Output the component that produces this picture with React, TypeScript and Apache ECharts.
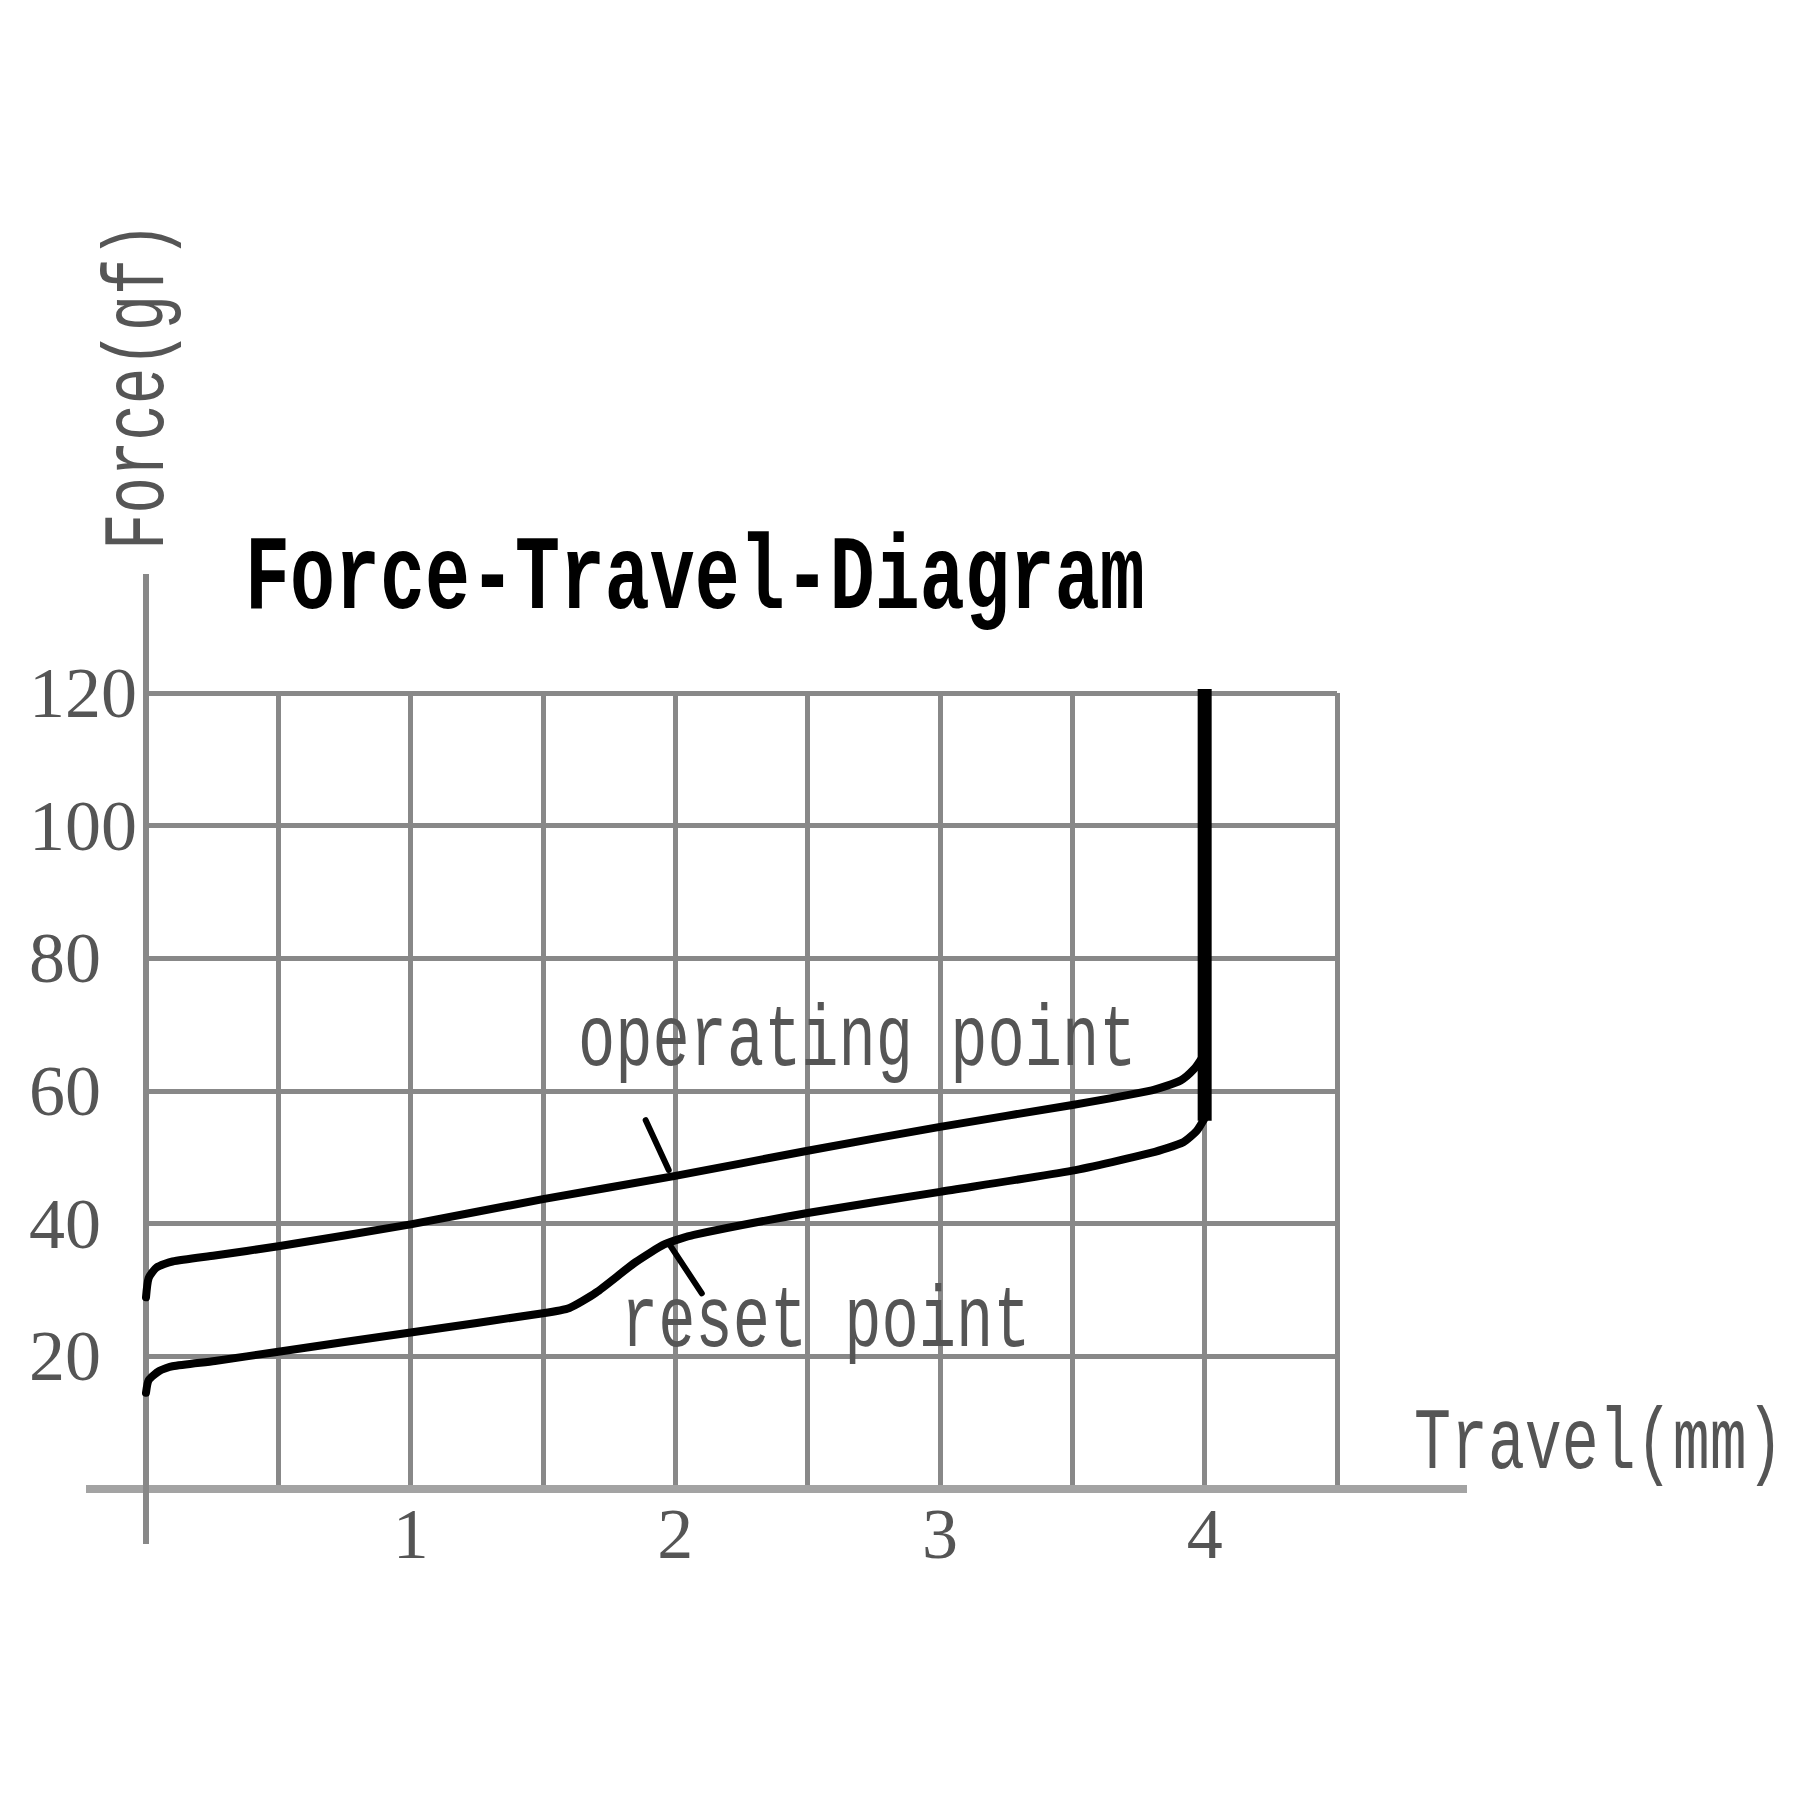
import React, { useEffect, useRef } from "react";
import * as echarts from "echarts";

// ---- data ----
const travelTicks = [1, 2, 3, 4];
const forceTicks = [20, 40, 60, 80, 100, 120];

const operatingCurve: number[][] = [
  [0, 28.9], [0.01, 31.8], [0.04, 33.4], [0.1, 34.3], [0.26, 35.2],
  [0.5, 36.6], [1.0, 39.9], [1.5, 43.7], [2.0, 47.2], [2.5, 51.0],
  [3.0, 54.6], [3.5, 57.9], [3.8, 60.1], [3.91, 61.6], [3.96, 63.3], [3.99, 65.0],
];
const resetCurve: number[][] = [
  [0, 14.5], [0.01, 16.4], [0.05, 17.8], [0.1, 18.5], [0.26, 19.3],
  [0.5, 20.7], [1.0, 23.6], [1.5, 26.5], [1.6, 27.3], [1.7, 29.6],
  [1.85, 34.2], [1.96, 36.9], [2.07, 38.3], [2.5, 41.6], [3.0, 44.8],
  [3.5, 48.0], [3.8, 50.7], [3.92, 52.3], [3.97, 54.0], [4.0, 55.9],
];
const stopLine: number[][] = [[4.0, 55.5], [4.0, 120.6]];
const operatingArrow: number[][] = [[1.888, 55.6], [1.975, 48.1]];
const resetArrow: number[][] = [[1.974, 37.1], [2.1, 29.5]];

const titleText = "Force-Travel-Diagram";
const xName = "Travel(mm)";
const yName = "Force(gf)";
const operatingLabel = "operating point";
const resetLabel = "reset point";

// ---- layout ----
const GRID = { left: 146, top: 693, width: 1191, height: 796 };
const LABEL_COLOR = "#555";
const GRID_COLOR = "#888";
const MONO = '"Liberation Mono", "DejaVu Sans Mono", monospace';
const SERIF = '"Liberation Serif", "DejaVu Serif", serif';

function txt(text: string, x: number, y: number, font: string, fill: string, opts: any = {}) {
  return {
    type: "text",
    x,
    y,
    scaleX: opts.scaleX ?? 1,
    rotation: opts.rotation ?? 0,
    z: 10,
    silent: true,
    style: {
      text,
      font,
      fill,
      align: opts.align ?? "left",
      verticalAlign: "middle",
      textAlign: opts.align ?? "left",
      textVerticalAlign: "middle",
    },
  };
}

export default function App() {
  const ref = useRef<HTMLDivElement>(null);
  useEffect(() => {
    if (!ref.current) return;
    const chart = echarts.init(ref.current, undefined, { renderer: "svg" });
    const lineSeries = (name: string, data: number[][], width: number, extra: any = {}) => ({
      name,
      type: "line",
      data,
      showSymbol: false,
      symbol: "none",
      silent: true,
      lineStyle: { color: "#000", width, cap: "round", join: "round" },
      z: 5,
      ...extra,
    });
    const axisBottom = GRID.top + GRID.height;
    chart.setOption({
      animation: false,
      backgroundColor: "#fff",
      grid: { ...GRID, containLabel: false, outerBoundsMode: "none" },
      xAxis: {
        type: "value",
        min: 0,
        max: 4.5,
        interval: 0.5,
        axisLine: { show: false },
        axisTick: { show: false },
        splitLine: { show: true, lineStyle: { color: GRID_COLOR, width: 5 } },
        axisLabel: {
          margin: 9,
          fontFamily: SERIF,
          fontSize: 72,
          color: LABEL_COLOR,
          formatter: (v: number) => (travelTicks.includes(v) ? String(v) : ""),
        },
      },
      yAxis: {
        type: "value",
        min: 0,
        max: 120,
        interval: 20,
        axisLine: { show: false },
        axisTick: { show: false },
        splitLine: { show: true, lineStyle: { color: GRID_COLOR, width: 5 } },
        axisLabel: {
          margin: 117,
          align: "left",
          fontFamily: SERIF,
          fontSize: 72,
          color: LABEL_COLOR,
          padding: [8, 0, 0, 0],
          formatter: (v: number) => (forceTicks.includes(v) ? String(v) : ""),
        },
      },
      graphic: [
        {
          type: "line",
          z: 3,
          silent: true,
          shape: { x1: 86, y1: axisBottom, x2: 1467, y2: axisBottom },
          style: { stroke: "#a3a3a3", lineWidth: 8 },
        },
        {
          type: "line",
          z: 3,
          silent: true,
          shape: { x1: GRID.left, y1: 574, x2: GRID.left, y2: 1544 },
          style: { stroke: GRID_COLOR, lineWidth: 6 },
        },
        txt(titleText, 245, 580, `bold 105px ${MONO}`, "#000", { scaleX: 0.714 }),
        txt(xName, 1414, 1445, `88px ${MONO}`, LABEL_COLOR, { scaleX: 0.7 }),
        txt(operatingLabel, 578, 1042, `88px ${MONO}`, LABEL_COLOR, { scaleX: 0.705 }),
        txt(resetLabel, 621, 1323, `88px ${MONO}`, LABEL_COLOR, { scaleX: 0.705 }),
        txt(yName, 140, 386, `88px ${MONO}`, LABEL_COLOR, { scaleX: 0.69, rotation: Math.PI / 2, align: "center" }),
      ],
      series: [
        lineSeries("operating", operatingCurve, 8, { smooth: 0.2 }),
        lineSeries("reset", resetCurve, 8, { smooth: 0.2 }),
        lineSeries("stop", stopLine, 14, { clip: false, lineStyle: { color: "#000", width: 14, cap: "butt" } }),
        lineSeries("operatingArrow", operatingArrow, 6),
        lineSeries("resetArrow", resetArrow, 6),
      ],
    });
    return () => chart.dispose();
  }, []);
  return (
    <div
      ref={ref}
      style={{ position: "absolute", left: 0, top: 0, width: 1800, height: 1800, background: "#fff" }}
    />
  );
}
